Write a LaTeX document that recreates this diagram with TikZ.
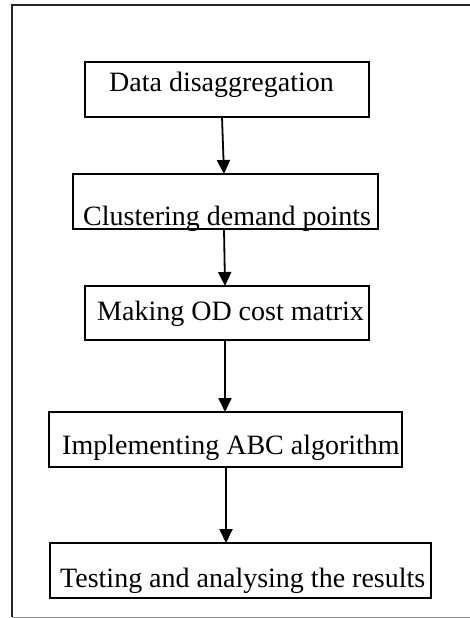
\documentclass[tikz,border=0pt]{standalone}
\usepackage{fontspec}
\setmainfont{Liberation Serif}
\usetikzlibrary{arrows.meta}
\begin{document}
\begin{tikzpicture}[x=1pt,y=-1pt,
  stepbox/.style={draw=black,line width=1.6pt,rectangle,inner sep=0pt,outer sep=0pt},
  label/.style={anchor=base west,inner sep=0pt,font=\fontsize{28}{28}\selectfont},
  flow/.style={line width=1.8pt,-{Triangle[length=14pt,width=13pt]}}]
\useasboundingbox (0,0) rectangle (470,618);
% outer frame (open at the right)
\draw[line width=1.8pt,black!85] (470,5) -- (12,5) -- (12,617);
\draw[line width=1pt,black!45] (12,617) -- (470,617);
% process boxes
\node[stepbox,minimum width=284pt,minimum height=55pt] (box1) at (227,89.5) {};
\node[stepbox,minimum width=305pt,minimum height=55pt] (box2) at (225.5,201.5) {};
\node[stepbox,minimum width=284pt,minimum height=54pt] (box3) at (227,313) {};
\node[stepbox,minimum width=353pt,minimum height=55pt] (box4) at (225.5,439.5) {};
\node[stepbox,minimum width=381pt,minimum height=55pt] (box5) at (240.5,570.5) {};
% box labels
\node[label] (t1) at (109,92) {Data disaggregation};
\node[label] (t2) at (83,225) {Clustering demand points};
\node[label] (t3) at (97,320) {Making OD cost matrix};
\node[label] (t4) at (62,454) {Implementing ABC algorithm};
\node[label] (t5) at (60,587) {Testing and analysing the results};
% connector x positions
\coordinate (a1) at (222,0);
\coordinate (a2) at (224,0);
\coordinate (a3) at (225,0);
\coordinate (a4) at (226,0);
% connectors
\draw[flow] (box1.south -| a1) -- (box2.north -| a2);
\draw[flow] (box2.south -| a2) -- (box3.north -| a3);
\draw[flow] (box3.south -| a3) -- (box4.north -| a3);
\draw[flow] (box4.south -| a4) -- (box5.north -| a4);
\end{tikzpicture}
\end{document}
